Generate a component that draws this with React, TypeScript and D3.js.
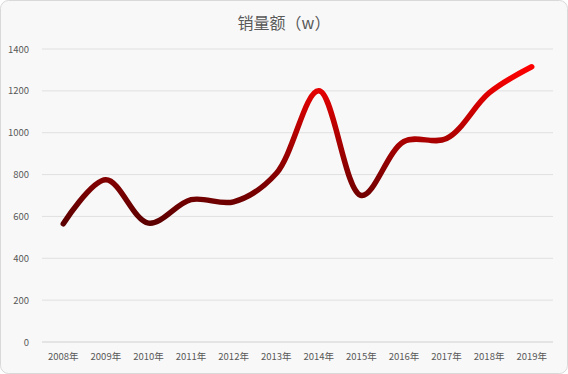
import React from "react";
import * as d3 from "d3";

const categories = ["2008年","2009年","2010年","2011年","2012年","2013年","2014年","2015年","2016年","2017年","2018年","2019年"];
const values = [565, 775, 568, 680, 670, 805, 1200, 700, 958, 972, 1190, 1315];
const yTicks = [0, 200, 400, 600, 800, 1000, 1200, 1400];
const title = "销量额（w）";

const W = 568, H = 374;
const plot = { left: 42, right: 553, top: 49, bottom: 342 };

export default function App() {
  const x = d3.scaleBand<string>().domain(categories).range([plot.left, plot.right]);
  const y = d3.scaleLinear().domain([0, 1400]).range([plot.bottom, plot.top]);
  const cx = (c: string) => (x(c) as number) + x.bandwidth() / 2;
  const line = d3.line<number>()
    .x((_, i) => cx(categories[i]))
    .y((v) => y(v))
    .curve(d3.curveCatmullRom.alpha(0.5));
  const d = line(values) as string;
  const font = "'Noto Sans CJK SC', 'Noto Sans', sans-serif";
  return (
    <svg width={W} height={H} style={{ position: "absolute", left: 0, top: 0 }} fontFamily={font}>
      <defs>
        <linearGradient id="lg" gradientUnits="userSpaceOnUse" x1={0} x2={0} y1={y(560)} y2={y(1320)}>
          <stop offset="0" stopColor="#5c0000" />
          <stop offset="0.35" stopColor="#8a0000" />
          <stop offset="1" stopColor="#ff0000" />
        </linearGradient>
      </defs>
      <rect x={0.5} y={0.5} width={W - 1} height={H - 1} rx={8} fill="#f8f8f8" stroke="#d9d9d9" />
      <text x={W / 2} y={29} textAnchor="middle" fontSize={16} fill="#595959">{title}</text>
      {yTicks.map((t) => (
        <g key={t}>
          <line x1={plot.left} x2={plot.right} y1={y(t)} y2={y(t)} stroke={t === 0 ? "#d0d0d0" : "#e0e0e0"} strokeWidth={1} />
          <text x={29} y={y(t) + 3.5} textAnchor="end" fontSize={9.5} fill="#595959">{t}</text>
        </g>
      ))}
      {categories.map((c) => (
        <text key={c} x={cx(c)} y={360} textAnchor="middle" fontSize={9.5} fill="#595959">{c}</text>
      ))}
      <path d={d} fill="none" stroke="url(#lg)" strokeWidth={5.5} strokeLinecap="round" strokeLinejoin="round" />
    </svg>
  );
}
